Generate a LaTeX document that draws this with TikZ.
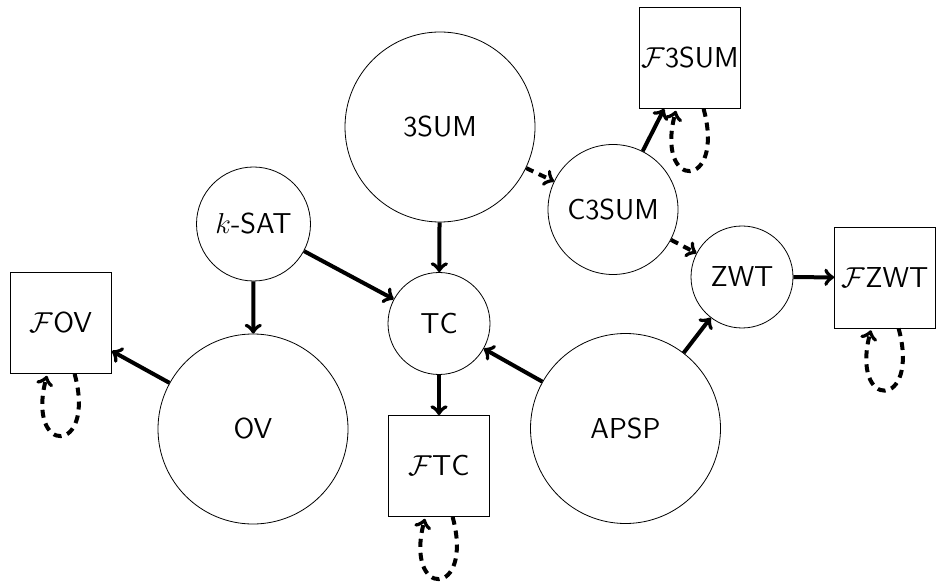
\documentclass[tikz,border=0pt]{standalone}
\usepackage{tikz}

\tikzset{
  prob/.style={circle, draw, font=\Large\sffamily, inner sep=1pt},
  fine/.style={rectangle, draw, font=\Large\sffamily, minimum size=50.5pt, inner sep=1pt},
  redu/.style={->, line width=2pt},
  weak/.style={->, line width=2pt, dash pattern=on 4pt off 3pt}
}

\begin{document}
\begin{tikzpicture}[x=0.5pt, y=-0.5pt]
    \useasboundingbox (0, 0) rectangle (941, 582);

    % draw problems
    \node[prob, minimum size=95pt] (3SUM) at (440, 127) {3SUM};
    \node[prob, minimum size=57pt] (kSAT) at (253.5, 224) {$k$-SAT};
    \node[prob, minimum size=65pt] (C3SUM) at (613, 209.5) {C3SUM};
    \node[prob, minimum size=51pt] (ZWT) at (742, 277) {ZWT};
    \node[prob, minimum size=51pt] (TC) at (439, 323.5) {TC};
    \node[prob, minimum size=95pt] (OV) at (253, 429) {OV};
    \node[prob, minimum size=95pt] (APSP) at (625.5, 428.5) {APSP};

    % draw fine-grained versions
    \node[fine] (F3SUM) at (690, 58) {$\mathcal{F}$3SUM};
    \node[fine] (FZWT) at (885, 277.5) {$\mathcal{F}$ZWT};
    \node[fine] (FOV) at (61, 323) {$\mathcal{F}$OV};
    \node[fine] (FTC) at (439, 466) {$\mathcal{F}$TC};

    % draw reductions
    \draw[redu] (kSAT) -- (TC);
    \draw[redu] (kSAT) -- (OV);
    \draw[redu] (3SUM) -- (TC);
    \draw[weak] (3SUM) -- (C3SUM);
    \draw[redu] (C3SUM) -- (F3SUM);
    \draw[weak] (C3SUM) -- (ZWT);
    \draw[redu] (ZWT) -- (FZWT);
    \draw[redu] (APSP) -- (ZWT);
    \draw[redu] (APSP) -- (TC);
    \draw[redu] (OV) -- (FOV);
    \draw[redu] (TC) -- (FTC);

    % draw self loops
    \path (FOV) edge[loop below, weak] (FOV);
    \path (FTC) edge[loop below, weak] (FTC);
    \path (F3SUM) edge[loop below, weak] (F3SUM);
    \path (FZWT) edge[loop below, weak] (FZWT);
\end{tikzpicture}
\end{document}
